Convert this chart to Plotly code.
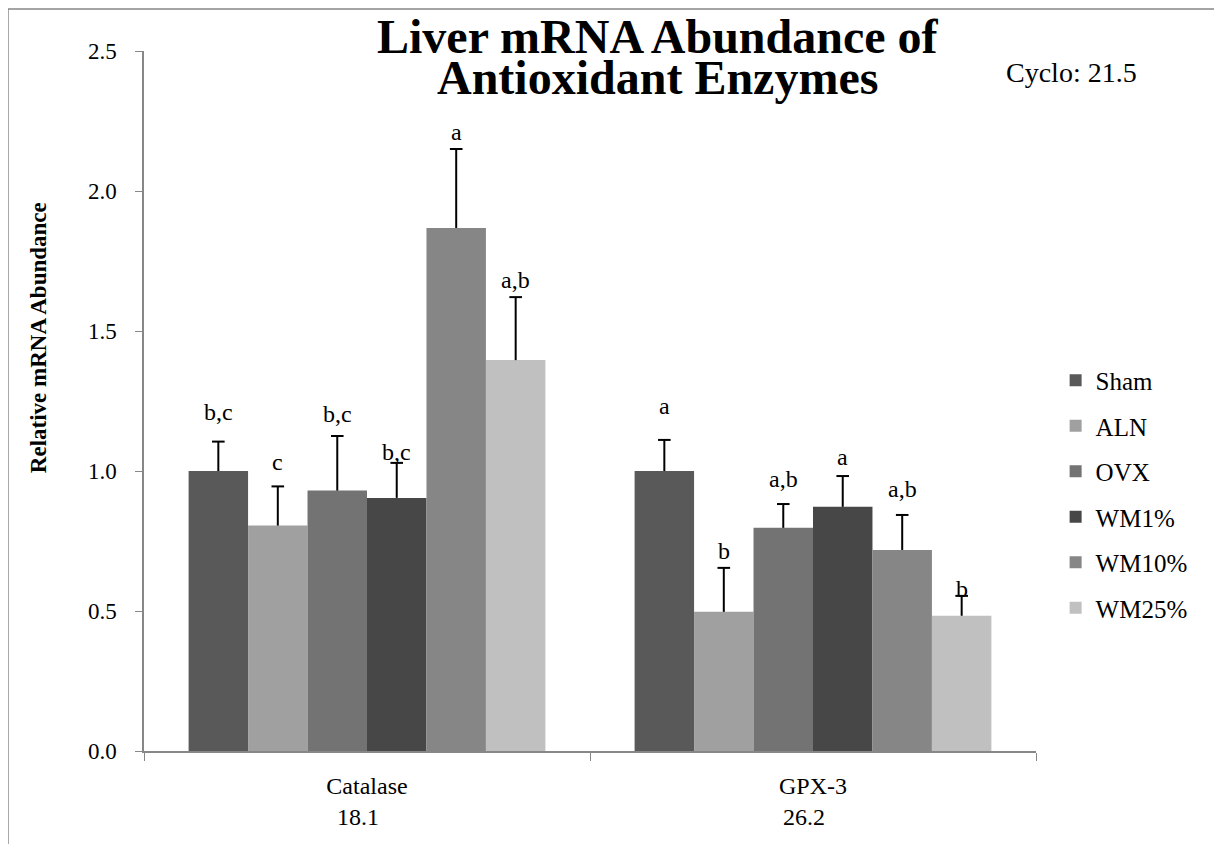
import plotly.graph_objects as go

# ---- data ----
genes = ["Catalase", "GPX-3"]
cycle_values = ["18.1", "26.2"]
groups = ["Sham", "ALN", "OVX", "WM1%", "WM10%", "WM25%"]
means = {
    "Sham":  [1.00, 1.00],
    "ALN":   [0.805, 0.497],
    "OVX":   [0.930, 0.797],
    "WM1%":  [0.904, 0.872],
    "WM10%": [1.868, 0.718],
    "WM25%": [1.396, 0.483],
}
errors = {
    "Sham":  [0.105, 0.111],
    "ALN":   [0.140, 0.157],
    "OVX":   [0.195, 0.085],
    "WM1%":  [0.125, 0.110],
    "WM10%": [0.282, 0.125],
    "WM25%": [0.225, 0.071],
}
letters = {
    "Sham":  ["b,c", "a"],
    "ALN":   ["c", "b"],
    "OVX":   ["b,c", "a,b"],
    "WM1%":  ["b,c", "a"],
    "WM10%": ["a", "a,b"],
    "WM25%": ["a,b", "b"],
}
letter_y = {
    "Sham":  [1.182, 1.204],
    "ALN":   [1.004, 0.686],
    "OVX":   [1.175, 0.943],
    "WM1%":  [1.039, 1.021],
    "WM10%": [2.182, 0.907],
    "WM25%": [1.654, 0.550],
}
colors = ["#595959", "#a0a0a0", "#737373", "#474747", "#868686", "#c0c0c0"]
cyclo_text = "Cyclo: 21.5"
title_lines = ["Liver mRNA Abundance of", "Antioxidant Enzymes"]
y_title = "Relative mRNA Abundance"
y_ticks = [0.0, 0.5, 1.0, 1.5, 2.0, 2.5]

FONT = "Liberation Serif"
AXIS_GREY = "#878787"
bargap = 0.2

fig = go.Figure()
for i, g in enumerate(groups):
    fig.add_trace(go.Bar(
        name=g, x=genes, y=means[g],
        marker=dict(color=colors[i], line=dict(width=0)),
        error_y=dict(type="data", array=errors[g], arrayminus=[0] * len(genes),
                     symmetric=False, color="black", thickness=2, width=0),
        legendgroup=g,
    ))

# positions of each bar centre on a numeric overlay axis (same scale as category axis)
n = len(groups)
bw = (1 - bargap) / n
cap_x, cap_y = [], []
for i, g in enumerate(groups):
    off = -(1 - bargap) / 2 + (i + 0.5) * bw
    for j, gene in enumerate(genes):
        cap_x.append(j + off)
        cap_y.append(means[g][j] + errors[g][j])
        fig.add_annotation(x=j + off, y=letter_y[g][j], xref="x2", yref="y",
                           text=letters[g][j], showarrow=False, yanchor="bottom", yshift=-7,
                           font=dict(family=FONT, size=24, color="black"))

# error-bar caps
fig.add_trace(go.Scatter(x=cap_x, y=cap_y, xaxis="x2", yaxis="y", mode="markers",
                         marker=dict(symbol="line-ew", size=9, color="black",
                                     line=dict(width=2, color="black")),
                         showlegend=False, hoverinfo="skip", legendgroup="caps"))

fig.add_annotation(x=0.576, y=1.02, xref="paper", yref="paper", text="<b>%s</b>" % title_lines[0],
                   showarrow=False, xanchor="center", yanchor="middle",
                   font=dict(family=FONT, size=48, color="black"))
fig.add_annotation(x=0.576, y=0.962, xref="paper", yref="paper", text="<b>%s</b>" % title_lines[1],
                   showarrow=False, xanchor="center", yanchor="middle",
                   font=dict(family=FONT, size=48, color="black"))
fig.add_annotation(x=1.040, y=0.970, xref="paper", yref="paper", text=cyclo_text,
                   showarrow=False, xanchor="center", yanchor="middle",
                   font=dict(family=FONT, size=28, color="black"))
fig.add_annotation(x=-0.119, y=0.591, xref="paper", yref="paper", text="<b>%s</b>" % y_title,
                   textangle=-90, showarrow=False, xanchor="center", yanchor="middle",
                   font=dict(family=FONT, size=23, color="black"))

# outer frame
fig.add_shape(type="rect", xref="paper", yref="paper", x0=-0.1525, x1=1.204, y0=-0.2, y1=1.06,
              line=dict(color=AXIS_GREY, width=1.5), fillcolor="rgba(0,0,0,0)", layer="below")

fig.update_layout(
    width=1214, height=836,
    margin=dict(l=136, r=186, t=43, b=93),
    paper_bgcolor="white", plot_bgcolor="white",
    barmode="group", bargap=bargap, bargroupgap=0,
    font=dict(family=FONT, size=22, color="black"),
    showlegend=True,
    legend=dict(x=1.022, y=0.562, yanchor="top", xanchor="left",
                font=dict(family=FONT, size=25, color="black"),
                tracegroupgap=10, traceorder="grouped", bgcolor="rgba(0,0,0,0)"),
    xaxis=dict(type="category", tickvals=genes,
               ticktext=["%s<br>%s&nbsp;&nbsp;&nbsp;" % (g, c) for g, c in zip(genes, cycle_values)],
               tickson="boundaries", ticks="outside", ticklen=8, tickcolor=AXIS_GREY,
               showline=True, linecolor=AXIS_GREY, linewidth=1.5, showgrid=False,
               tickfont=dict(family=FONT, size=24), ticklabelstandoff=12, range=[-0.5, 1.5]),
    xaxis2=dict(overlaying="x", range=[-0.5, 1.5], visible=False, showgrid=False, zeroline=False),
    yaxis=dict(range=[0, 2.5], tickvals=y_ticks, ticktext=["%.1f" % v for v in y_ticks],
               ticks="outside", ticklen=7, tickcolor=AXIS_GREY, showline=True,
               linecolor=AXIS_GREY, linewidth=1.5, showgrid=False, zeroline=False,
               ticklabelstandoff=14, tickfont=dict(family=FONT, size=23)),
)

fig.write_html("out.html")
